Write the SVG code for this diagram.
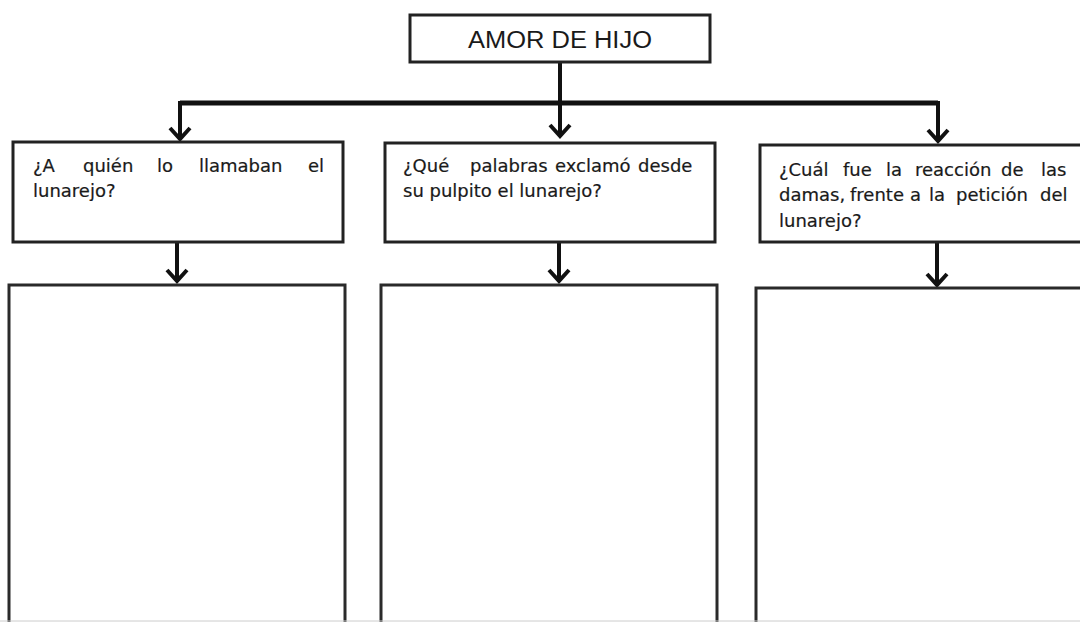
<svg xmlns="http://www.w3.org/2000/svg" width="1080" height="622" viewBox="0 0 1080 622">
<style>
.box{fill:#fff;stroke:#222;stroke-width:3}
.ans{fill:#fff;stroke:#2a2a2a;stroke-width:3}
.q{font-family:"DejaVu Sans",Verdana,sans-serif;font-size:18px;fill:#1a1a1a;stroke:#1a1a1a;stroke-width:0.2}
.title{font-family:"Liberation Sans",Arial,sans-serif;font-size:23px;fill:#1a1a1a}
.conn{fill:none;stroke:#111;stroke-width:4}
.bus{fill:none;stroke:#111;stroke-width:5}
.head{fill:none;stroke:#111;stroke-width:4;stroke-linejoin:miter}
</style>
<defs>
<path id="chev" class="head" d="M-10,-12 L0,-1 L10,-12"/>
</defs>
<rect width="1080" height="622" fill="#fff"/>
<g id="connectors">
<path class="conn" d="M560,62 V136"/>
<use href="#chev" x="560" y="137"/>
<path class="bus" d="M180,103 H938"/>
<path class="conn" d="M180,101 V139"/>
<use href="#chev" x="180" y="140"/>
<path class="conn" d="M938,101 V141"/>
<use href="#chev" x="938" y="142"/>
<path class="conn" d="M177,242 V281"/>
<use href="#chev" x="177" y="282"/>
<path class="conn" d="M559,242 V281"/>
<use href="#chev" x="559" y="282"/>
<path class="conn" d="M937,242 V285"/>
<use href="#chev" x="937" y="286"/>
</g>
<g id="title">
<rect class="box" x="410" y="15" width="300" height="47"/>
<text class="title" x="468" y="48" textLength="184" lengthAdjust="spacingAndGlyphs">AMOR DE HIJO</text>
</g>
<g id="q1">
<rect class="box" x="13" y="142" width="330" height="100"/>
<text class="q" y="172"><tspan x="33">¿A</tspan><tspan x="83">quién</tspan><tspan x="157">lo</tspan><tspan x="199">llamaban</tspan><tspan x="308">el</tspan></text>
<text class="q" x="33" y="197">lunarejo?</text>
</g>
<g id="q2">
<rect class="box" x="385" y="143" width="330" height="99"/>
<text class="q" y="172"><tspan x="403">¿Qué</tspan><tspan x="470">palabras</tspan><tspan x="555">exclamó</tspan><tspan x="638">desde</tspan></text>
<text class="q" x="403" y="197">su pulpito el lunarejo?</text>
</g>
<g id="q3">
<rect class="box" x="760" y="145" width="330" height="97"/>
<text class="q" y="176"><tspan x="779">¿Cuál</tspan><tspan x="843">fue</tspan><tspan x="886">la</tspan><tspan x="915">reacción</tspan><tspan x="1001">de</tspan><tspan x="1041">las</tspan></text>
<text class="q" y="201"><tspan x="779">damas,</tspan><tspan x="850">frente</tspan><tspan x="910">a</tspan><tspan x="929">la</tspan><tspan x="956">petición</tspan><tspan x="1040">del</tspan></text>
<text class="q" x="779" y="227">lunarejo?</text>
</g>
<g id="a1">
<rect class="ans" x="9" y="285" width="336" height="345"/>
</g>
<g id="a2">
<rect class="ans" x="381" y="285" width="336" height="345"/>
</g>
<g id="a3">
<rect class="ans" x="756" y="288" width="340" height="345"/>
</g>
<line x1="0" y1="621" x2="1080" y2="621" stroke="#ccc" stroke-width="1"/>
</svg>
